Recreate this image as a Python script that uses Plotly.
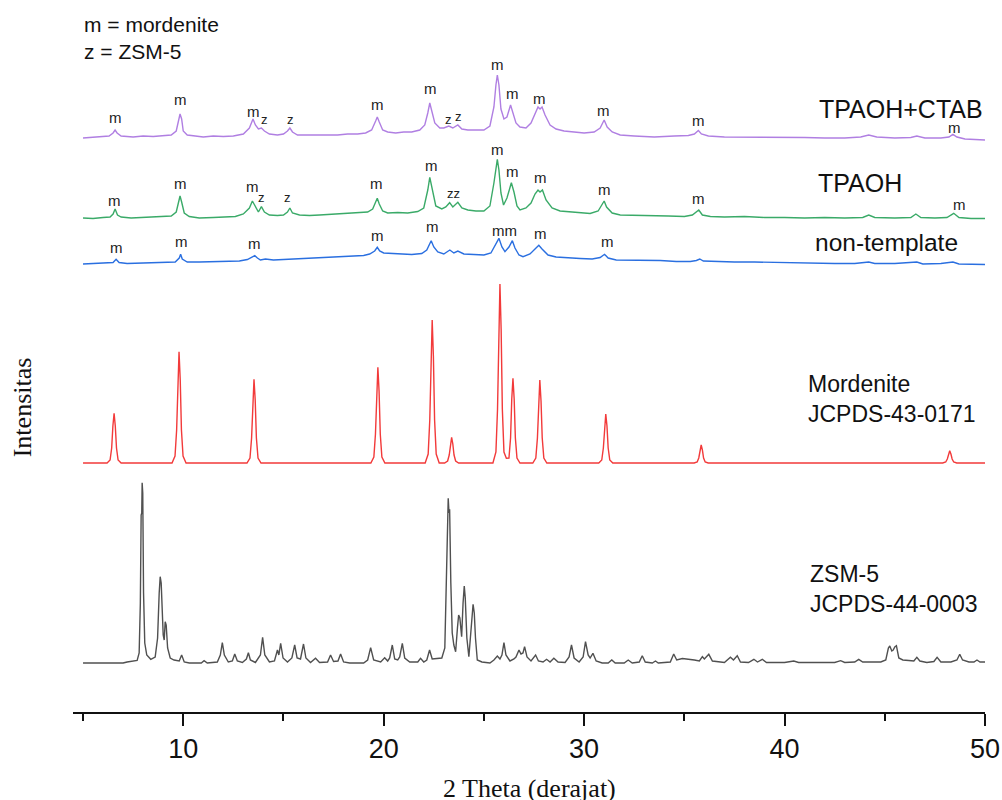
import plotly.graph_objects as go

# ---------------- data (2 theta in degrees, intensity in a.u. relative to each pattern's baseline) -------------
ctab_x = [5.0, 5.5, 6.0, 6.3, 6.5, 6.6, 6.7, 6.9, 7.5, 8.0, 8.5, 9.0, 9.4, 9.65, 9.78, 9.84, 9.92, 10.0, 10.2, 10.6,
          11.0, 11.5, 12.0, 12.5, 13.0, 13.3, 13.48, 13.6, 13.75, 13.9, 14.05, 14.3, 14.7, 15.0, 15.2, 15.32, 15.45,
          15.7, 16.2, 16.7, 17.2, 17.7, 18.2, 18.7, 19.1, 19.4, 19.6, 19.68, 19.78, 19.95, 20.2, 20.6, 21.0, 21.4,
          21.8, 22.05, 22.2, 22.3, 22.4, 22.55, 22.8, 23.0, 23.25, 23.45, 23.7, 23.9, 24.2, 24.6, 25.0, 25.3, 25.5,
          25.6, 25.67, 25.75, 25.85, 26.0, 26.15, 26.33, 26.45, 26.6, 26.8, 27.1, 27.35, 27.55, 27.7, 27.8, 27.9,
          28.05, 28.3, 28.6, 29.0, 29.5, 30.0, 30.5, 30.8, 31.0, 31.15, 31.4, 31.8, 32.5, 33.5, 34.5, 35.2, 35.5,
          35.7, 35.85, 36.2, 37.0, 38.0, 39.0, 40.0, 41.0, 42.0, 43.0, 43.8, 44.2, 44.6, 45.5, 46.3, 46.6, 47.0,
          47.8, 48.2, 48.4, 48.6, 49.0, 49.5, 50.0]
ctab_y = [-1, 0, 0.5, 1, 4, 7, 4, 1, 0, 1, 0.5, 1, 2, 6, 20, 23, 18, 6, 2, 1,
          0, 1, 0.5, 1, 3, 9, 18, 12, 8, 9, 6, 3, 2, 3, 6, 9, 5,
          2, 2, 1.5, 2, 2, 3, 3, 4, 7, 16, 20, 15, 7, 5, 4, 5, 5,
          7, 12, 24, 34, 26, 14, 9, 9, 11, 9, 12, 8, 7, 7, 7, 11, 30,
          52, 62, 52, 28, 18, 20, 32, 24, 14, 10, 9, 14, 24, 30, 28, 30,
          22, 12, 8, 6, 5, 4, 5, 9, 17, 10, 5, 2, 1, 0, 1, 1.5, 3,
          6.5, 3, 1, 0, 0, -0.5, 0, -0.5, -1, -1, 0, 2, 0, -1, -0.5, 1, -1,
          -1, 0, 2.7, 0, -2, -2.5, -3]

tpaoh_x = [5.0, 5.5, 6.0, 6.35, 6.5, 6.6, 6.72, 6.9, 7.4, 8.0, 8.5, 9.0, 9.4, 9.65, 9.77, 9.84, 9.92, 10.05, 10.3,
           10.8, 11.5, 12.0, 12.6, 13.0, 13.3, 13.45, 13.6, 13.75, 13.9, 14.05, 14.3, 14.7, 15.0, 15.2, 15.32, 15.45,
           15.8, 16.3, 16.8, 17.3, 17.8, 18.3, 18.8, 19.2, 19.45, 19.6, 19.68, 19.78, 19.95, 20.2, 20.7, 21.2, 21.7,
           22.0, 22.2, 22.3, 22.42, 22.6, 22.9, 23.1, 23.29, 23.45, 23.7, 23.9, 24.2, 24.6, 25.0, 25.3, 25.5, 25.62,
           25.67, 25.75, 25.85, 25.98, 26.15, 26.37, 26.5, 26.65, 26.8, 27.1, 27.35, 27.55, 27.7, 27.8, 27.92, 28.1,
           28.4, 28.8, 29.3, 29.8, 30.3, 30.7, 30.9, 31.0, 31.12, 31.4, 31.8, 32.5, 33.3, 34.2, 35.0, 35.4, 35.72,
           35.9, 36.3, 37.0, 38.0, 39.0, 40.0, 41.0, 42.0, 43.0, 43.9, 44.2, 44.5, 45.5, 46.3, 46.55, 46.8, 47.5,
           48.1, 48.44, 48.7, 49.3, 50.0]
tpaoh_y = [0, -0.5, 0.5, 1, 4, 9, 3, 1, 0, 0.5, 1, 1, 2, 6, 18, 22, 16, 5, 1.5,
           0, 0.5, 1, 1.5, 4, 10, 17, 11, 6, 11.3, 6, 3, 2.5, 3, 6, 10, 5,
           3, 2.5, 3, 3.5, 4, 4.5, 5, 6, 9, 17, 19.7, 14, 7, 5, 5.5, 5, 6.5,
           10, 28, 40.7, 28, 12, 9, 11, 15.3, 11, 15.7, 10, 8, 7, 7, 12, 35, 55,
           58.7, 48, 25, 13, 20, 35.3, 26, 12, 8, 10, 15, 24, 28, 26, 28, 18,
           10, 7, 6, 5, 4.5, 7, 13, 17, 11, 5, 3, 2.5, 2, 2, 1.5, 3, 8,
           3, 1.5, 1, 1.5, 0.5, 0.5, 0, 0.5, 0, 0.5, 3, 0.5, 0, 0.5, 4, 0.5, 0,
           0.5, 4.7, 0.5, -0.5, -0.5]

nontemp_x = [5.0, 5.6, 6.2, 6.5, 6.65, 6.8, 7.2, 7.8, 8.5, 9.2, 9.6, 9.8, 9.87, 9.95, 10.2, 10.8, 11.5, 12.2, 12.8,
             13.2, 13.45, 13.57, 13.7, 13.85, 14.1, 14.5, 15.0, 15.5, 16.0, 16.5, 17.0, 17.5, 18.0, 18.5, 19.0, 19.3,
             19.55, 19.68, 19.8, 20.0, 20.4, 20.9, 21.4, 21.9, 22.15, 22.37, 22.5, 22.7, 23.0, 23.3, 23.5, 23.7, 24.0,
             24.5, 25.0, 25.35, 25.6, 25.75, 25.9, 26.05, 26.25, 26.42, 26.55, 26.75, 26.95, 27.3, 27.55, 27.74, 27.9,
             28.2, 28.6, 29.2, 29.8, 30.4, 30.8, 31.02, 31.2, 31.6, 32.3, 33.0, 33.8, 34.6, 35.3, 35.6, 35.77, 35.95,
             36.5, 37.5, 38.5, 39.5, 40.5, 41.5, 42.5, 43.5, 44.2, 44.5, 45.5, 46.6, 46.9, 47.8, 48.4, 48.7, 49.3, 50.0]
nontemp_y = [0, 0.5, 0.5, 1.5, 4.7, 1.5, 0.5, 1, 1, 1.5, 2, 6, 9.7, 5, 2, 2, 2.5, 2.5, 3,
             4.5, 7, 8.3, 6, 4, 5, 4, 4.5, 5, 5.5, 5.5, 6, 6.5, 7, 7.5, 8.5, 10,
             13, 16.7, 13, 11, 10.5, 10, 9.5, 10.5, 14, 23.3, 17, 12, 10, 14, 11, 13, 10,
             9.5, 9, 11, 20, 25.7, 17, 12.3, 17, 23.3, 16, 9, 7.3, 10, 15, 18.7, 15,
             9, 7, 6, 5.5, 5, 6.5, 9.7, 6, 4, 4, 3.5, 3.5, 2.5, 2.5, 3.5, 5, 3,
             2.5, 2, 2, 1.5, 1, 1, 0.5, 0.5, 2, 0.5, 0.5, 2, 0, 0.5, 2, 0, 0, -0.5]

mor_ref_x = [5.0,
             6.2, 6.35, 6.43, 6.49, 6.55, 6.61, 6.67, 6.75, 6.9,
             9.44, 9.59, 9.67, 9.73, 9.79, 9.85, 9.91, 9.99, 10.14,
             13.18, 13.33, 13.41, 13.47, 13.53, 13.59, 13.65, 13.73, 13.88,
             19.36, 19.51, 19.59, 19.65, 19.71, 19.77, 19.83, 19.91, 20.06,
             22.07, 22.22, 22.3, 22.36, 22.42, 22.48, 22.54, 22.62, 22.77,
             23.04, 23.19, 23.27, 23.33, 23.39, 23.45, 23.51, 23.59, 23.74,
             25.45, 25.6, 25.68, 25.74, 25.8, 25.86, 25.92, 26.0, 26.12,
             26.25, 26.33, 26.39, 26.45, 26.51, 26.57, 26.65, 26.8,
             27.44, 27.59, 27.67, 27.73, 27.79, 27.85, 27.91, 27.99, 28.14,
             30.73, 30.88, 30.96, 31.02, 31.08, 31.14, 31.2, 31.28, 31.43,
             35.49, 35.64, 35.72, 35.78, 35.84, 35.9, 35.96, 36.04, 36.19,
             47.89, 48.04, 48.12, 48.18, 48.24, 48.3, 48.36, 48.44, 48.59,
             50.0]
mor_ref_y = [0,
             0, 3, 15, 37, 49.7, 37, 15, 3, 0,
             0, 7, 33, 83, 111.3, 83, 33, 7, 0,
             0, 5, 25, 63, 83.7, 63, 25, 5, 0,
             0, 6, 29, 72, 95.7, 72, 29, 6, 0,
             0, 9, 43, 107, 143, 107, 43, 9, 0,
             0, 2, 8, 19, 25.7, 19, 8, 2, 0,
             0, 11, 54, 134, 179, 134, 54, 11, 4.7,
             5, 25, 64, 84.7, 64, 25, 5, 0,
             0, 5, 25, 62, 83, 62, 25, 5, 0,
             0, 3, 15, 37, 49, 37, 15, 3, 0,
             0, 1, 5, 13, 18, 13, 5, 1, 0,
             0, 1, 4, 9, 12.3, 9, 4, 1, 0,
             0]

zsm_ref_x = [5.0, 7.0, 7.2, 7.5, 7.7, 7.8, 7.86, 7.9, 7.93, 7.95, 7.98, 8.02, 8.08, 8.18, 8.38, 8.6, 8.72, 8.8, 8.85,
             8.9, 8.95, 9.0, 9.05, 9.1, 9.15, 9.22, 9.35, 9.54, 9.8, 9.92, 10.05, 10.3, 10.9, 11.04, 11.2, 11.7, 11.85,
             11.95, 12.05, 12.25, 12.45, 12.57, 12.7, 12.95, 13.15, 13.25, 13.35, 13.6, 13.85, 13.96, 14.07, 14.3,
             14.55, 14.7, 14.77, 14.86, 14.98, 15.2, 15.42, 15.56, 15.68, 15.85, 16.0, 16.12, 16.35, 16.6, 16.8, 17.2,
             17.35, 17.5, 17.72, 17.85, 18.0, 18.3, 19.0, 19.2, 19.35, 19.5, 19.85, 20.05, 20.2, 20.3, 20.43, 20.55,
             20.7, 20.8, 20.93, 21.05, 21.3, 21.7, 21.84, 22.0, 22.15, 22.29, 22.42, 22.6, 22.9, 23.05, 23.12, 23.18,
             23.22, 23.26, 23.29, 23.35, 23.42, 23.5, 23.59, 23.68, 23.74, 23.8, 23.89, 23.96, 24.02, 24.07, 24.15,
             24.25, 24.38, 24.46, 24.52, 24.58, 24.67, 24.9, 25.3, 25.5, 25.67, 25.8, 25.9, 26.0, 26.1, 26.3, 26.5,
             26.6, 26.75, 26.85, 26.95, 27.03, 27.15, 27.35, 27.58, 27.72, 27.95, 28.13, 28.3, 28.49, 28.7, 29.05,
             29.25, 29.37, 29.5, 29.75, 29.95, 30.07, 30.2, 30.3, 30.44, 30.6, 30.9, 31.2, 31.38, 31.55, 32.0, 32.2,
             32.4, 32.75, 32.9, 33.05, 33.4, 33.56, 33.7, 34.3, 34.47, 34.62, 34.9, 35.2, 35.5, 35.75, 35.9, 36.0,
             36.22, 36.4, 36.7, 37.0, 37.3, 37.45, 37.64, 37.8, 38.2, 38.47, 38.65, 38.89, 39.1, 40.0, 40.46, 40.7,
             42.5, 42.8, 43.0, 43.5, 43.7, 43.9, 44.8, 45.05, 45.18, 45.25, 45.35, 45.42, 45.5, 45.58, 45.7, 45.9,
             46.2, 46.45, 46.6, 46.75, 47.1, 47.45, 47.61, 47.8, 48.3, 48.6, 48.74, 48.88, 49.2, 49.45, 49.6, 49.75,
             50.0]
zsm_ref_y = [0, 0, 1, 1.5, 2.5, 10, 60, 148, 150, 180.3, 170, 70, 20, 8, 3.7, 6, 25, 70, 86.3,
             80, 50, 28, 23, 41.3, 38, 15, 5, 3, 2, 8, 1, 0, 0, 2.3, 0, 1, 8,
             20.3, 8, 1, 2, 9, 2, 0.5, 4, 10.3, 3, 0.5, 8, 25.7, 8, 1,
             2, 13, 8, 19.7, 5, 1, 5, 18, 5, 4, 19, 5, 0.5, 4.7, 0.5, 1,
             8, 1.5, 2, 9, 1, 0, 0, 3, 15.3, 3, 1, 5.3, 2, 5, 18, 4,
             3, 6, 19.7, 5, 1, 1, 4.7, 1, 3, 13, 4, 4.5, 5, 15, 90, 150,
             164.7, 150, 153.7, 80, 30, 18, 11.3, 35, 48, 45, 26.3, 60, 77, 65, 25,
             6.3, 35, 58.7, 50, 25, 3, 1, 0, 3, 7, 4, 8, 20.3, 8, 2, 4,
             6, 13, 9, 10, 16.3, 6, 2, 8, 2, 1, 3.7, 1, 4.7, 1, 0.5,
             6, 18, 5, 1, 6, 21.3, 8, 5, 9.7, 2, 0, 0, 3, 0, 0, 3,
             0, 1, 7.3, 1, 0, 2, 0, 1, 9, 3, 4.5, 4, 3, 2, 6.3, 4,
             8.7, 2, 1, 0.5, 5.7, 3, 7.3, 1, 0.5, 3.7, 1, 3.7, 0.5, 0.5, 2, 0.5,
             0.5, 2.3, 0.5, 1, 3.7, 1, 1, 3, 15, 17, 12, 13, 16, 17.3, 5, 3,
             2.5, 2, 5.7, 2, 0.5, 1.5, 5.7, 1, 1, 3, 8.7, 3, 1, 1, 3, 1,
             1]

# peak-phase labels (2 theta, height above the pattern baseline, text)
ctab_lbl_x = [6.6, 9.84, 13.5, 14.03, 15.36, 19.68, 22.34, 23.23, 23.72, 25.67, 26.45, 27.78, 30.99, 35.72, 48.5]
ctab_lbl_y = [20, 38, 25.3, 17.7, 18, 32.7, 48.7, 17.7, 20.3, 73, 43.7, 38.7, 27, 16.3, 9.5]
ctab_lbl_t = ["m", "m", "m", "z", "z", "m", "m", "z", "z", "m", "m", "m", "m", "m", "m"]

tpaoh_lbl_x = [6.55, 9.87, 13.45, 13.91, 15.22, 19.65, 22.38, 23.47, 25.7, 26.45, 27.83, 31.02, 35.72, 48.75]
tpaoh_lbl_y = [18, 34.7, 31.3, 20.7, 20.7, 34.7, 53, 24.7, 68.7, 47, 40.3, 28.7, 19.7, 14]
tpaoh_lbl_t = ["m", "m", "m", "z", "z", "m", "m", "zz", "m", "m", "m", "m", "m", "m"]

nontemp_lbl_x = [6.67, 9.92, 13.53, 19.71, 22.43, 26.05, 27.83, 31.16]
nontemp_lbl_y = [16.7, 22.3, 20.7, 29, 38, 34, 30.7, 22.3]
nontemp_lbl_t = ["m", "m", "m", "m", "m", "mm", "m", "m"]

series_names = ["TPAOH+CTAB", "TPAOH", "non-template", "Mordenite<br>JCPDS-43-0171", "ZSM-5<br>JCPDS-44-0003"]

# ---------------- layout constants -------------
offsets = [575, 494, 448, 249, 49]
colors = ["#b07fe2", "#3aaa68", "#2a6fe0", "#f23a3a", "#505050"]
xs = [ctab_x, tpaoh_x, nontemp_x, mor_ref_x, zsm_ref_x]
ys = [ctab_y, tpaoh_y, nontemp_y, mor_ref_y, zsm_ref_y]

fig = go.Figure()
for x, y, off, c, nm in zip(xs, ys, offsets, colors, series_names):
    fig.add_trace(go.Scatter(x=x, y=[v + off for v in y], mode="lines",
                             line=dict(color=c, width=1.4), name=nm, showlegend=False,
                             hoverinfo="skip"))

ann = []
SANS = "Liberation Sans, Arial, sans-serif"
SERIF = "Liberation Serif, Times New Roman, serif"
for lx, ly, lt, off in [(ctab_lbl_x, ctab_lbl_y, ctab_lbl_t, offsets[0]),
                        (tpaoh_lbl_x, tpaoh_lbl_y, tpaoh_lbl_t, offsets[1]),
                        (nontemp_lbl_x, nontemp_lbl_y, nontemp_lbl_t, offsets[2])]:
    for a, b, t in zip(lx, ly, lt):
        ann.append(dict(x=a, y=b + off, text=t, showarrow=False, xanchor="center", yanchor="middle",
                        font=dict(family=SANS, size=15 if "m" in t else 13, color="#222")))

# trace names
name_pos = [(41.61, 603, 25), (41.56, 529, 25), (41.41, 470, 24.5), (41.06, 313, 23), (41.16, 123, 23)]
for nm, (px, py, fs) in zip(series_names, name_pos):
    ann.append(dict(x=px, y=py, text=nm, showarrow=False, xanchor="left", yanchor="middle", align="left",
                    font=dict(family=SANS, size=fs, color="#111")))

ann.append(dict(x=4.95, y=674.5, text="m = mordenite<br>z = ZSM-5", showarrow=False, xanchor="left",
                yanchor="middle", align="left", font=dict(family=SANS, size=21, color="#111")))

ann.append(dict(x=0.5, y=-0.1075, xref="paper", yref="paper", text="2 Theta (derajat)", showarrow=False,
                xanchor="center", yanchor="middle", font=dict(family=SERIF, size=26, color="#111")))
ann.append(dict(x=-0.0559, y=0.428, xref="paper", yref="paper", text="Intensitas", showarrow=False,
                textangle=-90, xanchor="center", yanchor="middle", font=dict(family=SERIF, size=26, color="#111")))

fig.update_layout(
    width=1002, height=800,
    margin=dict(l=73, r=17, t=0, b=88),
    paper_bgcolor="white", plot_bgcolor="white",
    annotations=ann,
    xaxis=dict(range=[4.5, 50], showgrid=False, zeroline=False, showline=True, linecolor="#111", linewidth=2,
               ticks="outside", ticklen=12, tickwidth=2, tickcolor="#111",
               tickvals=[10, 20, 30, 40, 50], ticktext=["10", "20", "30", "40", "50"],
               tickfont=dict(family=SANS, size=27, color="#111"),
               minor=dict(tickvals=[5, 15, 25, 35, 45], ticks="outside", ticklen=7, tickwidth=2, tickcolor="#111")),
    yaxis=dict(range=[0, 712], showgrid=False, zeroline=False, showline=False, showticklabels=False, ticks=""),
)

fig.write_html("out.html")
